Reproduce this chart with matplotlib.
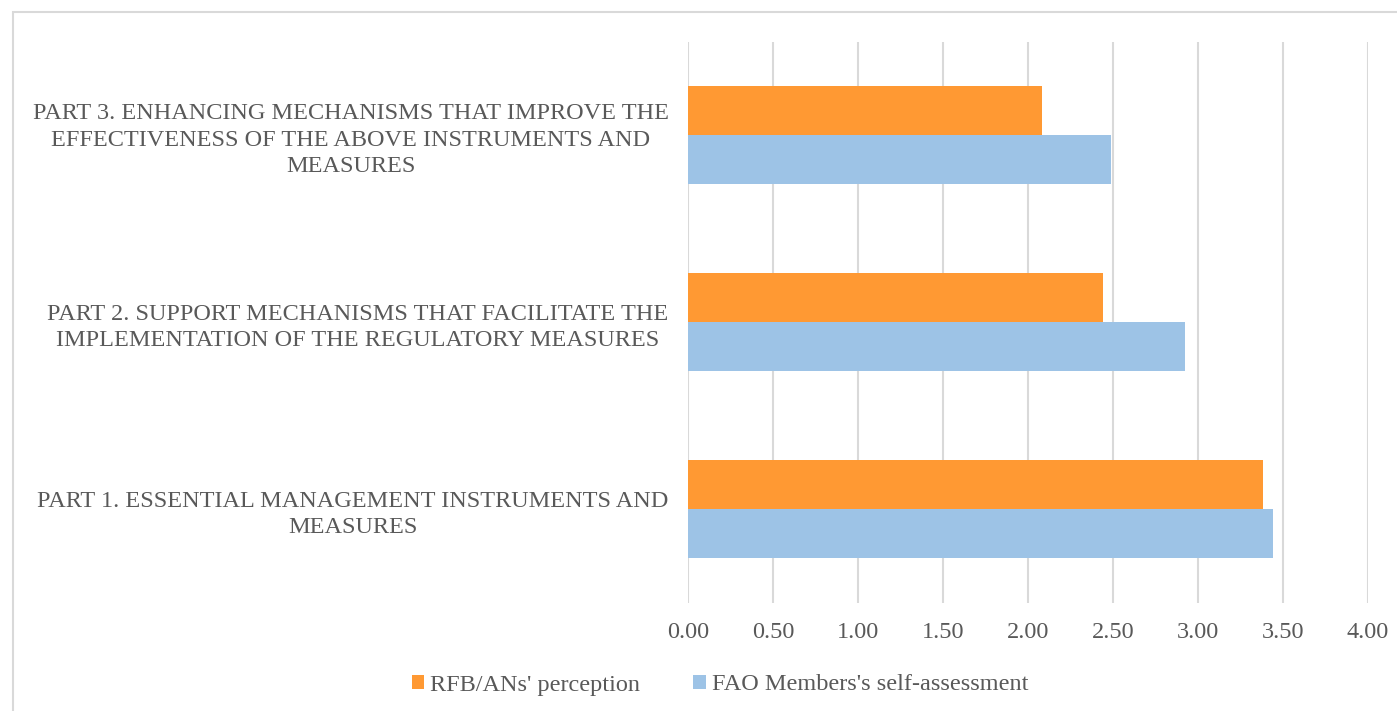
import numpy as np
import matplotlib
matplotlib.use("Agg")
from matplotlib import pyplot as plt
from matplotlib.patches import Rectangle

categories = [
    "PART 1. ESSENTIAL MANAGEMENT INSTRUMENTS AND\nMEASURES",
    "PART 2. SUPPORT MECHANISMS THAT FACILITATE THE\nIMPLEMENTATION OF THE REGULATORY MEASURES",
    "PART 3. ENHANCING MECHANISMS THAT IMPROVE THE\nEFFECTIVENESS OF THE ABOVE INSTRUMENTS AND\nMEASURES",
]
rfb_perception = [3.38, 2.44, 2.08]
fao_self_assessment = [3.44, 2.925, 2.49]
x_ticks = [0.0, 0.5, 1.0, 1.5, 2.0, 2.5, 3.0, 3.5, 4.0]

orange = "#ff9933"
blue = "#9dc3e6"
grey_text = "#595959"
grid_col = "#d9d9d9"

plt.rcParams['font.family'] = ['Liberation Serif', 'DejaVu Serif']

fig = plt.figure(figsize=(13.97, 7.11), dpi=100)
W, H = 1397, 711
ax = fig.add_axes([688 / W, 1 - 602.5 / H, (1368 - 688) / W, (602.5 - 41.5) / H])

y = np.arange(len(categories))
h = 0.26
ax.barh(y + h / 2, rfb_perception, height=h, color=orange, label="RFB/ANs' perception", zorder=3)
ax.barh(y - h / 2, fao_self_assessment, height=h, color=blue, label="FAO Members's self-assessment", zorder=3)

ax.set_xlim(0, 4)
ax.set_ylim(-0.5, 2.5)
ax.set_xticks(x_ticks)
ax.set_xticklabels([f"{v:.2f}" for v in x_ticks], fontsize=17.5, color=grey_text)
ax.set_yticks(y)
ax.set_yticklabels(categories, fontsize=17.5, color=grey_text, multialignment='center',
                   linespacing=1.35)
ax.tick_params(axis='both', length=0)
ax.tick_params(axis='x', pad=14)
ax.tick_params(axis='y', pad=14)
ax.xaxis.grid(True, color=grid_col, linewidth=1.5, zorder=0)
for s in ax.spines.values():
    s.set_visible(False)

handles, labels = ax.get_legend_handles_labels()
fig.legend(handles, labels, loc='center', bbox_to_anchor=(720 / W, 1 - 685 / H), ncol=2,
           frameon=False, fontsize=17.5, labelcolor=grey_text, handlelength=0.5,
           handleheight=0.5, handletextpad=0.25, columnspacing=2.2)

fig.patches.append(Rectangle((13 / W, -0.01), 1.2, 1 - 12 / H + 0.01, transform=fig.transFigure,
                             fill=False, edgecolor=grid_col, linewidth=1.5))

fig.savefig("out.png", dpi=100)
